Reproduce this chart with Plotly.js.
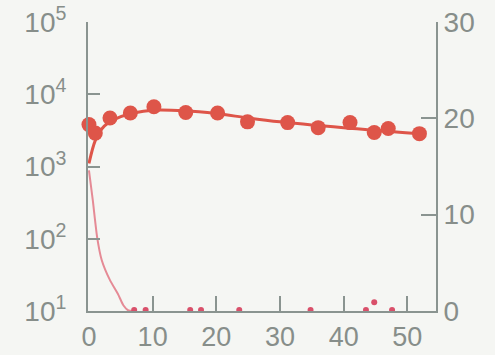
<!DOCTYPE html>
<html>
<head>
<meta charset="utf-8">
<script src="https://cdn.plot.ly/plotly-3.0.1.min.js"></script>
<style>
html,body{margin:0;padding:0;background:#f5f6f3;}
#chart{width:495px;height:355px;}
</style>
</head>
<body>
<div id="chart"></div>
<script>
// Big dots (left, log axis)
const dotX = [0, 1, 3.3, 6.5, 10.2, 15.2, 20.2, 24.9, 31.2, 36, 41, 44.8, 47, 51.9];
const dotY = [3800, 2900, 4700, 5500, 6700, 5600, 5500, 4150, 4050, 3450, 4050, 2950, 3350, 2850];
// Smooth fitted line through the big dots (left, log axis)
const fitX = [0, 1, 2, 3, 5, 7, 10, 15, 20, 25, 30, 35, 40, 45, 52];
const fitY = [1100, 2300, 3300, 4000, 4900, 5500, 6000, 5900, 5400, 4700, 4150, 3750, 3450, 3150, 2850];
// Decaying thin curve (right, linear axis)
const decayX = [0, 0.6, 1.3, 2.0, 3.3, 4.6, 5.4, 6.2, 7];
const decayY = [14.6, 11.5, 7.6, 5.3, 3.2, 1.7, 0.6, 0.05, 0];
// Small dots near zero (right, linear axis)
const smallX = [7.1, 8.9, 15.9, 17.6, 23.6, 34.8, 43.5, 44.8, 47.6];
const smallY = [0.1, 0.1, 0.1, 0.1, 0.1, 0.1, 0.1, 0.9, 0.1];
// Tick labels
const xTicks = [0, 10, 20, 30, 40, 50];
const leftTickVals = [10, 100, 1000, 10000, 100000];
const leftTickText = ['10<sup>1</sup>', '10<sup>2</sup>', '10<sup>3</sup>', '10<sup>4</sup>', '10<sup>5</sup>'];
const rightTicks = [0, 10, 20, 30];

const red = '#de5549';
const pink = '#e58a95';
const axisCol = '#8a9490';
const labelFont = {family: 'Liberation Sans, Arial, sans-serif', size: 28, color: '#878e8a'};
const xLabelFont = {family: 'Liberation Sans, Arial, sans-serif', size: 27, color: '#878e8a'};

const traces = [
  {x: fitX, y: fitY, mode: 'lines', line: {color: red, width: 3, shape: 'spline'}, yaxis: 'y', hoverinfo: 'skip', cliponaxis: false},
  {x: dotX, y: dotY, mode: 'markers', marker: {color: red, size: 15}, yaxis: 'y', cliponaxis: false},
  {x: decayX, y: decayY, mode: 'lines', line: {color: pink, width: 2, shape: 'spline', smoothing: 0.6}, yaxis: 'y2', cliponaxis: false},
  {x: smallX, y: smallY, mode: 'markers', marker: {color: '#d9506a', size: 6}, yaxis: 'y2', cliponaxis: false}
];

const layout = {
  width: 495, height: 355,
  margin: {l: 88, r: 59, t: 22, b: 44},
  paper_bgcolor: '#f5f6f3',
  plot_bgcolor: '#f5f6f3',
  showlegend: false,
  xaxis: {
    range: [-0.15, 54.5], tickvals: xTicks, ticktext: xTicks.map(String),
    showline: true, linecolor: axisCol, linewidth: 2,
    ticks: 'inside', ticklen: 15, tickwidth: 2, tickcolor: axisCol,
    showgrid: false, zeroline: false, tickfont: xLabelFont, ticklabelstandoff: 1
  },
  yaxis: {
    type: 'log', range: [1, 5], tickvals: leftTickVals, ticktext: leftTickText,
    showline: true, linecolor: axisCol, linewidth: 2,
    ticks: 'inside', ticklen: 12, tickwidth: 2, tickcolor: axisCol,
    showgrid: false, zeroline: false, tickfont: labelFont, ticklabelstandoff: 14
  },
  yaxis2: {
    overlaying: 'y', side: 'right', anchor: 'x', range: [0, 30], tickvals: rightTicks, ticktext: rightTicks.map(String),
    showline: true, linecolor: axisCol, linewidth: 2,
    ticks: 'inside', ticklen: 15, tickwidth: 2, tickcolor: axisCol,
    showgrid: false, zeroline: false, tickfont: labelFont, ticklabelstandoff: 0
  }
};

Plotly.newPlot('chart', traces, layout, {staticPlot: true, displayModeBar: false});
</script>
</body>
</html>
